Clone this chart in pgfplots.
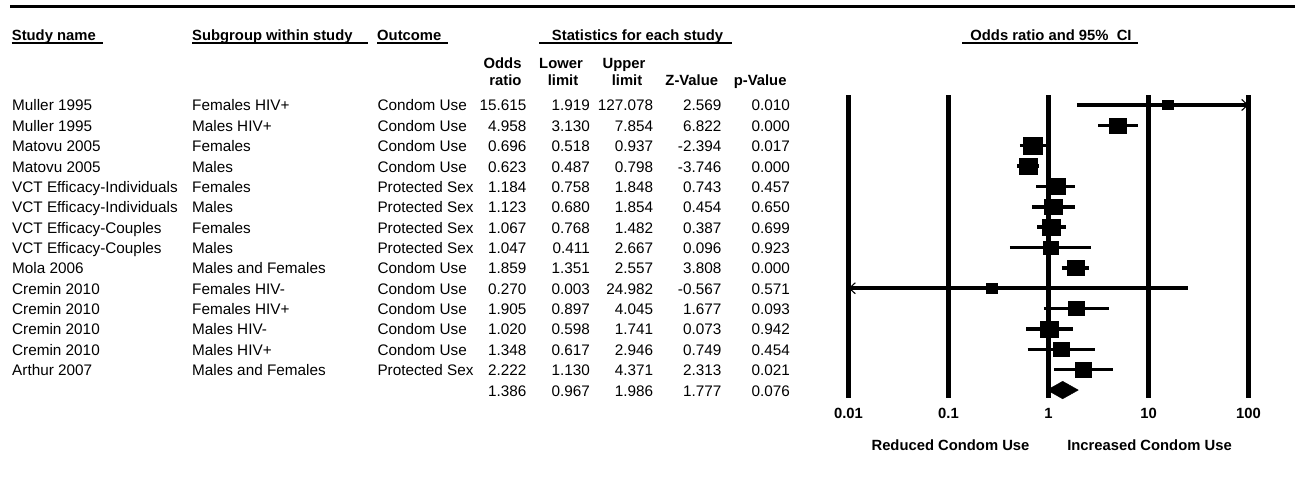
\documentclass[border=0pt]{standalone}
\usepackage{fontspec}
\setmainfont{Liberation Sans}
\usepackage{pgfplots}
\pgfplotsset{compat=1.18}
\usepackage{pgfplotstable}
\usetikzlibrary{arrows.meta}

% forest data: row, odds ratio, lower, upper, half size of square
\pgfplotstableread{
row or lo hi h
0 15.615 1.919 127.078 4.6
1 4.958 3.130 7.854 7.5
2 0.696 0.518 0.937 8.2
3 0.623 0.487 0.798 8.0
4 1.184 0.758 1.848 7.8
5 1.123 0.680 1.854 7.8
6 1.067 0.768 1.482 7.8
7 1.047 0.411 2.667 6.7
8 1.859 1.351 2.557 7.5
9 0.270 0.003 24.982 5.0
10 1.905 0.897 4.045 7.0
11 1.020 0.598 1.741 7.8
12 1.348 0.617 2.946 6.8
13 2.222 1.130 4.371 7.2
}\forestdata

% confidence interval segments (clipped at 0.01 and 100)
\pgfplotstableread{
x y
1.919 0
100 0
nan nan
3.130 1
7.854 1
nan nan
0.518 2
0.937 2
nan nan
0.487 3
0.798 3
nan nan
0.758 4
1.848 4
nan nan
0.680 5
1.854 5
nan nan
0.768 6
1.482 6
nan nan
0.411 7
2.667 7
nan nan
1.351 8
2.557 8
nan nan
0.01 9
24.982 9
nan nan
0.897 10
4.045 10
nan nan
0.598 11
1.741 11
nan nan
0.617 12
2.946 12
nan nan
1.130 13
4.371 13
}\cidata

\newcommand\rowfont{\fontsize{15.3}{18}\selectfont}
\newcommand\hdfont{\fontsize{14.8}{17}\selectfont\bfseries}

\begin{document}
\begin{tikzpicture}[x=1pt,y=1pt]
\path[use as bounding box] (0,0) rectangle (1295,-481);

% top rule
\draw[line width=3pt] (10,-6.7) -- (1295,-6.7);

% headers
\begin{scope}[every node/.style={inner sep=0pt, font=\hdfont}]
\node[anchor=base west] at (11.7,-40.2) {Study name};
\node[anchor=base west] at (192,-40.2) {Subgroup within study};
\node[anchor=base west] at (377,-40.2) {Outcome};
\node[anchor=base] at (637.5,-40.2) {Statistics for each study};
\node[anchor=base] at (1051,-40.2) {Odds ratio and 95\%\ \ CI};
\node[anchor=base east] at (521.7,-68.5) {Odds};
\node[anchor=base east] at (521.7,-85.2) {ratio};
\node[anchor=base] at (561,-68.5) {Lower};
\node[anchor=base] at (563,-85.2) {limit};
\node[anchor=base] at (624,-68.5) {Upper};
\node[anchor=base] at (627,-85.2) {limit};
\node[anchor=base east] at (718.3,-85.2) {Z-Value};
\node[anchor=base east] at (786.7,-85.2) {p-Value};
\node[anchor=base] at (950.5,-450.2) {Reduced Condom Use};
\node[anchor=base] at (1149.5,-450.2) {Increased Condom Use};
\end{scope}
\begin{scope}[line width=2pt]
\draw (11.7,-43.5) -- (103.3,-43.5);
\draw (192,-43.5) -- (368,-43.5);
\draw (377,-43.5) -- (448,-43.5);
\draw (539.3,-43.5) -- (731.7,-43.5);
\draw (962,-43.5) -- (1138,-43.5);
\end{scope}

% table rows
\begin{scope}[every node/.style={inner sep=0pt, font=\rowfont}]
\foreach \sa/\sb/\sc/\sd/\se/\sf/\sg/\sh [count=\i from 0] in {
Muller 1995/Females HIV+/Condom Use/15.615/1.919/127.078/2.569/0.010,
Muller 1995/Males HIV+/Condom Use/4.958/3.130/7.854/6.822/0.000,
Matovu 2005/Females/Condom Use/0.696/0.518/0.937/-2.394/0.017,
Matovu 2005/Males/Condom Use/0.623/0.487/0.798/-3.746/0.000,
VCT Efficacy-Individuals/Females/Protected Sex/1.184/0.758/1.848/0.743/0.457,
VCT Efficacy-Individuals/Males/Protected Sex/1.123/0.680/1.854/0.454/0.650,
VCT Efficacy-Couples/Females/Protected Sex/1.067/0.768/1.482/0.387/0.699,
VCT Efficacy-Couples/Males/Protected Sex/1.047/0.411/2.667/0.096/0.923,
Mola 2006/Males and Females/Condom Use/1.859/1.351/2.557/3.808/0.000,
Cremin 2010/Females HIV-/Condom Use/0.270/0.003/24.982/-0.567/0.571,
Cremin 2010/Females HIV+/Condom Use/1.905/0.897/4.045/1.677/0.093,
Cremin 2010/Males HIV-/Condom Use/1.020/0.598/1.741/0.073/0.942,
Cremin 2010/Males HIV+/Condom Use/1.348/0.617/2.946/0.749/0.454,
Arthur 2007/Males and Females/Protected Sex/2.222/1.130/4.371/2.313/0.021}
{
  \pgfmathsetmacro\yy{-(111+20.36*\i)}
  \node[anchor=base west] at (12,\yy) {\sa};
  \node[anchor=base west] at (192,\yy) {\sb};
  \node[anchor=base west] at (377.3,\yy) {\sc};
  \node[anchor=base east] at (526.7,\yy) {\sd};
  \node[anchor=base east] at (590,\yy) {\se};
  \node[anchor=base east] at (653.3,\yy) {\sf};
  \node[anchor=base east] at (721.5,\yy) {\sg};
  \node[anchor=base east] at (790,\yy) {\sh};
}
\pgfmathsetmacro\yy{-(111+20.36*14)}
\node[anchor=base east] at (526.7,\yy) {1.386};
\node[anchor=base east] at (590,\yy) {0.967};
\node[anchor=base east] at (653.3,\yy) {1.986};
\node[anchor=base east] at (721.5,\yy) {1.777};
\node[anchor=base east] at (790,\yy) {0.076};
\end{scope}

\begin{axis}[
  at={(848.5pt,-95pt)}, anchor=north west,
  scale only axis, width=400pt, height=303.4pt,
  xmode=log, xmin=0.01, xmax=100,
  ymin=-0.49, ymax=14.41, y dir=reverse,
  axis line style={draw=none},
  xtick={0.01,0.1,1,10,100},
  xticklabels={0.01,0.1,1,10,100},
  xminorticks=false, ytick=\empty,
  major tick length=0pt,
  xmajorgrids,
  grid style={black, line width=5pt},
  xticklabel style={font=\hdfont, yshift=-6.4pt},
  clip=false,
]
\addplot[black, line width=3.5pt, unbounded coords=jump, mark=none] table[x=x, y=y] {\cidata};
\addplot[black, line width=1.1pt, mark=none, -{Straight Barb[length=6pt, width=11pt]}] coordinates {(50,0) (100,0)};
\addplot[black, line width=1.1pt, mark=none, -{Straight Barb[length=6pt, width=11pt]}] coordinates {(0.02,9) (0.01,9)};
\addplot[only marks, mark=square*, scatter,
  scatter/use mapped color={draw=black, fill=black},
  visualization depends on={\thisrow{h} \as \hh},
  scatter/@pre marker code/.append style={/tikz/mark size=\hh, /tikz/xscale=1.15},
] table[x=or, y=row] {\forestdata};
\addplot[black, fill=black, mark=none] coordinates {(0.967,14) (1.386,13.57) (1.986,14) (1.386,14.43)} -- cycle;
\end{axis}
\end{tikzpicture}
\end{document}
